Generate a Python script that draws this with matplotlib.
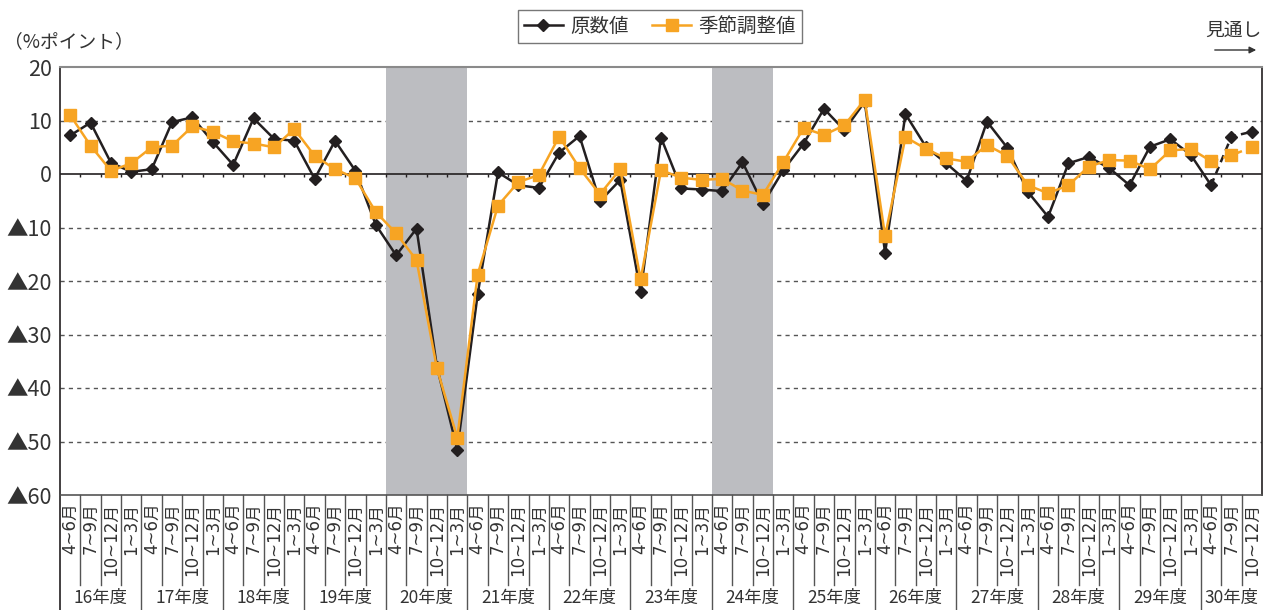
import numpy as np
import matplotlib
matplotlib.use('Agg')
import matplotlib.pyplot as plt

plt.rcParams['font.family'] = ['Noto Sans CJK JP', 'DejaVu Sans']

years = ['16年度', '17年度', '18年度', '19年度', '20年度', '21年度', '22年度',
         '23年度', '24年度', '25年度', '26年度', '27年度', '28年度', '29年度', '30年度']
quarters = ['4~6月', '7~9月', '10~12月', '1~3月']

# 原数値
raw = [7.2, 9.6, 2.1, 0.4, 0.9, 9.7, 10.6, 6.0, 1.7, 10.4, 6.6, 6.2,
       -0.9, 6.2, 0.6, -9.5, -15.2, -10.2, -36.0, -51.5, -22.5, 0.3, -2.1, -2.6,
       4.0, 7.1, -5.1, -1.1, -22.1, 6.8, -2.7, -2.9, -3.2, 2.2, -5.6, 0.7,
       5.7, 12.2, 8.2, 13.5, -14.7, 11.2, 5.1, 2.0, -1.3, 9.8, 4.9, -3.3,
       -8.0, 2.0, 3.2, 1.1, -2.1, 5.1, 6.5, 3.6, -2.1, 7.0, 7.9]
# 季節調整値
sa = [11.0, 5.3, 0.6, 2.0, 5.0, 5.3, 8.9, 7.9, 6.1, 5.7, 5.0, 8.4,
      3.4, 0.9, -0.8, -7.1, -11.1, -16.1, -36.3, -49.3, -18.8, -5.9, -1.5, -0.2,
      7.0, 1.1, -3.8, 0.9, -19.7, 0.7, -0.7, -1.1, -0.9, -3.1, -3.9, 2.2,
      8.6, 7.3, 9.1, 13.9, -11.6, 6.9, 4.7, 2.9, 2.3, 5.4, 3.4, -2.1,
      -3.6, -2.1, 1.4, 2.6, 2.5, 0.9, 4.4, 4.7, 2.4, 3.5, 5.0]

# 景気後退期 (四半期番号)
shade = [(16, 19), (32, 34)]
n_actual = 57  # 以降は見通し

n = len(raw)
x = np.arange(n)
q_labels = [quarters[i % 4] for i in range(n)]

fig = plt.figure(figsize=(12.72, 6.10), dpi=100)
ax = fig.add_axes([60 / 1272, 115 / 610, 1202 / 1272, 428 / 610])

for a, b in shade:
    ax.axvspan(a - 0.5, b + 0.5, color='#bcbdc1', lw=0, zorder=1)

for v in [10, -10, -20, -30, -40, -50]:
    ax.axhline(v, color='#555555', lw=1, ls=(0, (3, 3)), zorder=0.5)
ax.axhline(0, color='#231f20', lw=1.2, zorder=2)
ax.vlines(x[:-1] + 0.5, -0.6, 0, color='#231f20', lw=1, zorder=2)

black = '#231f20'
orange = '#f7a423'
ax.plot(x[:n_actual], raw[:n_actual], '-', color=black, lw=1.8, marker='D', ms=6,
        mec=black, mfc=black, zorder=3, label='原数値')
ax.plot(x[n_actual - 1:], raw[n_actual - 1:], '--', color=black, lw=1.8,
        dashes=(3, 2), zorder=3)
ax.plot(x[n_actual:], raw[n_actual:], 'D', color=black, ms=6, zorder=3)

ax.plot(x[:n_actual], sa[:n_actual], '-', color=orange, lw=1.8, marker='s', ms=8,
        mec=orange, mfc=orange, zorder=4, label='季節調整値')
ax.plot(x[n_actual - 1:], sa[n_actual - 1:], '--', color=orange, lw=1.8,
        dashes=(3, 2), zorder=4)
ax.plot(x[n_actual:], sa[n_actual:], 's', color=orange, ms=8, zorder=4)

ax.set_xlim(-0.5, n - 0.5)
ax.set_ylim(-60, 20)
yt = np.arange(-60, 21, 10)
ax.set_yticks(yt)
ax.set_yticklabels([('▲%d' % -v) if v < 0 else '%d' % v for v in yt],
                   fontsize=15.5, color='#333333')
ax.tick_params(axis='y', length=0, pad=6)
ax.set_xticks([])

for s in ['left', 'right']:
    ax.spines[s].set_color('#231f20')
    ax.spines[s].set_linewidth(1.2)
ax.spines['top'].set_color('#8a8a8a')
ax.spines['top'].set_linewidth(1.5)
ax.spines['bottom'].set_color('#555555')
ax.spines['bottom'].set_linewidth(1.2)

# 下の目盛ラベル
tr = ax.get_xaxis_transform()
for i in range(n):
    ax.text(x[i], -0.018, q_labels[i], transform=tr, rotation=90, ha='center',
            va='top', fontsize=12, color='#333333',
            family=['DejaVu Sans', 'Noto Sans CJK JP'])
for i in range(1, n):
    y_end = -0.268 if i % 4 == 0 else -0.21
    ax.plot([i - 0.5, i - 0.5], [0, y_end], transform=tr, color='#555555', lw=1,
            clip_on=False)
ax.plot([-0.5, -0.5], [0, -0.268], transform=tr, color='#231f20', lw=1.2,
        clip_on=False)
for k, yl in enumerate(years):
    cnt = min(4, n - 4 * k)
    xc = 4 * k + (cnt - 1) / 2
    ax.text(xc, -0.24, yl, transform=tr, ha='center', va='center',
            fontsize=12.5, color='#333333')

fig.text(4 / 1272, 1 - 42 / 610, '（%ポイント）', ha='left', va='center',
         fontsize=13.5, color='#333333')
fig.text(1233 / 1272, 1 - 30 / 610, '見通し', ha='center', va='center',
         fontsize=13.5, color='#333333')
fig.add_artist(matplotlib.patches.FancyArrowPatch(
    (1212 / 1272, 1 - 50 / 610), (1259 / 1272, 1 - 50 / 610),
    transform=fig.transFigure, arrowstyle='-|>', mutation_scale=10,
    color='#333333', lw=1))

leg = fig.legend(loc='center', bbox_to_anchor=(660 / 1272, 1 - 26.5 / 610),
                 ncol=2, fontsize=14, frameon=True, fancybox=False,
                 edgecolor='#555555', handlelength=2.0, handletextpad=0.4,
                 columnspacing=1.2, borderpad=0.3)
leg.get_frame().set_linewidth(1)
for t in leg.get_texts():
    t.set_color('#333333')

fig.savefig('out.png', dpi=100)
